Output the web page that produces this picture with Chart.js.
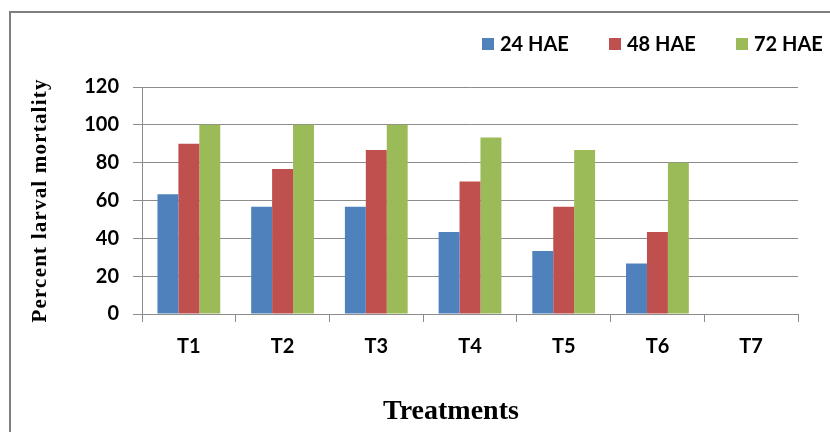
<!DOCTYPE html>
<html>
<head>
<meta charset="utf-8">
<script src="https://cdn.jsdelivr.net/npm/chart.js@4/dist/chart.umd.min.js"></script>
<style>
  html, body { margin: 0; padding: 0; background: #ffffff; }
  #wrap { width: 830px; height: 432px; }
</style>
</head>
<body>
<div id="wrap"><canvas id="c" width="830" height="432"></canvas></div>
<script>
// Percent larval mortality by treatment, at 24, 48 and 72 hours after exposure
const categories = ['T1', 'T2', 'T3', 'T4', 'T5', 'T6', 'T7'];
const seriesNames = ['24 HAE', '48 HAE', '72 HAE'];
const hae24 = [63.33, 56.67, 56.67, 43.33, 33.33, 26.67, 0];
const hae48 = [90, 76.67, 86.67, 70, 56.67, 43.33, 0];
const hae72 = [100, 100, 100, 93.33, 86.67, 80, 0];
const yTicks = [0, 20, 40, 60, 80, 100, 120];
const yTitle = 'Percent larval mortality';
const xTitle = 'Treatments';

const colors = ['#4F81BD', '#C0504D', '#9BBB59'];
const gridColor = '#8c8c8c';
const tickFont = { family: 'Lato', weight: 'bold', size: 20 };

// Frame, legend and axis titles drawn around the plot
const decor = {
  id: 'decor',
  beforeDraw(chart) {
    const ctx = chart.ctx;
    ctx.save();
    ctx.strokeStyle = '#7f7f7f';
    ctx.lineWidth = 2;
    ctx.beginPath();
    ctx.moveTo(10, 432);
    ctx.lineTo(10, 12);
    ctx.lineTo(830, 12);
    ctx.stroke();
    ctx.restore();
  },
  afterDraw(chart) {
    const ctx = chart.ctx;
    ctx.save();
    // legend
    const legendX = [482, 609, 736];
    ctx.font = 'bold 20px Lato';
    ctx.textBaseline = 'middle';
    chart.data.datasets.forEach((ds, i) => {
      ctx.fillStyle = ds.backgroundColor;
      ctx.fillRect(legendX[i], 38, 12, 12);
      ctx.fillStyle = '#000';
      ctx.textAlign = 'left';
      ctx.fillText(ds.label, legendX[i] + 18, 45);
    });
    // y axis title
    ctx.fillStyle = '#000';
    ctx.font = 'bold 21px "Liberation Serif"';
    ctx.letterSpacing = '1.2px';
    ctx.textAlign = 'center';
    ctx.textBaseline = 'middle';
    const ca = chart.chartArea;
    ctx.translate(41, (ca.top + ca.bottom) / 2);
    ctx.rotate(-Math.PI / 2);
    ctx.fillText(yTitle, 0, 0);
    ctx.setTransform(1, 0, 0, 1, 0, 0);
    // x axis title
    ctx.letterSpacing = '0px';
    ctx.font = 'bold 28px "Liberation Serif"';
    ctx.fillText(xTitle, 451, 412);
    ctx.restore();
  }
};

new Chart(document.getElementById('c'), {
  type: 'bar',
  data: {
    labels: categories,
    datasets: [
      { label: seriesNames[0], data: hae24, backgroundColor: colors[0] },
      { label: seriesNames[1], data: hae48, backgroundColor: colors[1] },
      { label: seriesNames[2], data: hae72, backgroundColor: colors[2] }
    ]
  },
  options: {
    responsive: false,
    animation: false,
    layout: { padding: { top: 87, right: 32, left: 0, bottom: 0 } },
    plugins: { legend: { display: false }, tooltip: { enabled: false } },
    datasets: { bar: { categoryPercentage: 0.67, barPercentage: 1.0 } },
    scales: {
      x: {
        grid: { offset: true, drawOnChartArea: false, color: gridColor, tickLength: 8 },
        border: { display: true, color: gridColor },
        ticks: { font: tickFont, color: '#000', padding: 13, maxRotation: 0 },
        afterFit(scale) { scale.height = 118; }
      },
      y: {
        min: 0, max: 120,
        afterBuildTicks(scale) { scale.ticks = yTicks.map(v => ({ value: v })); },
        grid: { color: gridColor, tickLength: 9 },
        border: { display: true, color: gridColor },
        ticks: { font: tickFont, color: '#000', padding: 14 },
        afterFit(scale) { scale.width = 142; }
      }
    }
  },
  plugins: [decor]
});
</script>
</body>
</html>
